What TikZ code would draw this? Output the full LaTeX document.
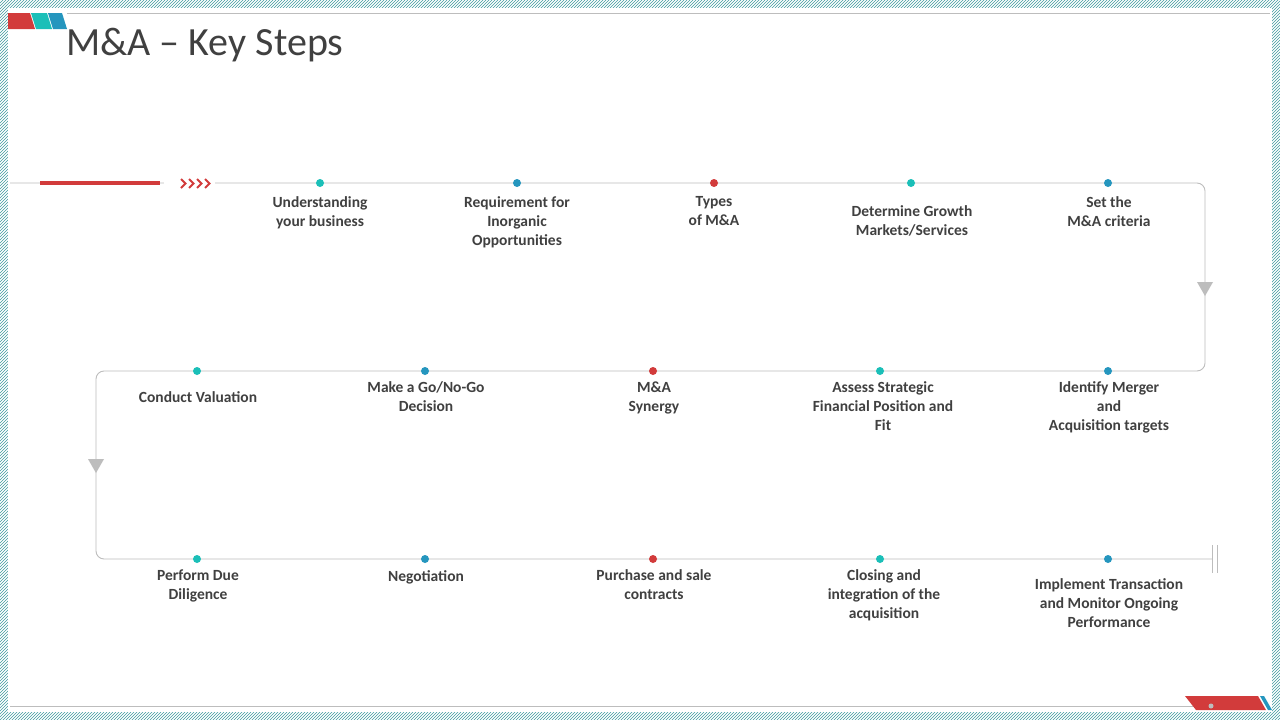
\documentclass[tikz,border=0pt]{standalone}
\usepackage{fontspec}
\setmainfont{Carlito}
\usetikzlibrary{patterns}
\definecolor{teal1}{HTML}{1BBFB8}
\definecolor{blue1}{HTML}{2596BE}
\definecolor{red1}{HTML}{D23B3B}
\definecolor{hatch}{HTML}{3F9A9E}
\definecolor{ln}{HTML}{BDBDBD}
\definecolor{tx}{HTML}{404040}
\begin{document}
\begin{tikzpicture}[x=1pt,y=-1pt,
  dotc/.style={circle,fill=#1,inner sep=0pt,minimum size=8pt},
  lab/.style={font=\bfseries\fontsize{15.5}{19}\selectfont,text=tx,align=center,anchor=north},
  flow/.style={draw=ln,line width=0.9pt,rounded corners=8pt}]
\useasboundingbox (0,0) rectangle (1280,720);
\fill[pattern=north east lines,pattern color=hatch] (0,0) rectangle (1280,720);
\fill[white] (8,8) rectangle (1272,712);
\draw[ln,line width=0.6pt] (67,13) -- (1270,13);
\draw[ln,line width=0.6pt] (10,706) -- (1210,706);
\fill[red1] (8,13) -- (30,13) -- (35,29) -- (8,29) -- cycle;
\fill[teal1] (31,13) -- (47,13) -- (52,29) -- (36,29) -- cycle;
\fill[blue1] (48,13) -- (62,13) -- (67,29) -- (53,29) -- cycle;
\node[anchor=west,text=tx,font=\fontsize{40}{44}\selectfont,inner sep=0pt] (title) at (66,45) {M\&A -- Key Steps};
\fill[red1] (1185,696) -- (1258,696) -- (1266,710) -- (1196,710) -- cycle;
\fill[blue1] (1260,696) -- (1264,696) -- (1272,710) -- (1268,710) -- cycle;
\node[circle,fill=ln,inner sep=0pt,minimum size=5pt] (bd) at (1211,706) {};
% flow line
\coordinate (s) at (10,183);
\coordinate (c1) at (1205,183);
\coordinate (c2) at (1205,371);
\coordinate (c3) at (96,371);
\coordinate (c4) at (96,559);
\coordinate (e) at (1212,559);
\draw[flow] (s) -- (c1) -- (c2) -- (c3) -- (c4) -- (e);
\fill[white] (164,178) rectangle (215,188);
\fill[red1] (40,180.5) rectangle (160,185);
\foreach \i in {0,1,2,3}{
 \draw[red1,line width=1.8pt] (181+\i*8,179) -- (185.5+\i*8,183.5) -- (181+\i*8,188);}
\draw[ln,line width=0.9pt] (1212,545) -- (1212,573) (1217,545) -- (1217,573);
\fill[ln] (1197,282) -- (1213,282) -- (1205,296) -- cycle;
\fill[ln] (88,459) -- (104,459) -- (96,473) -- cycle;
% row 1
\node[dotc=teal1] (d1) at (320,183) {};
\node[dotc=blue1] (d2) at (517,183) {};
\node[dotc=red1] (d3) at (714,183) {};
\node[dotc=teal1] (d4) at (911,183) {};
\node[dotc=blue1] (d5) at (1108,183) {};
\node[lab] at (320,193) {Understanding\\your business};
\node[lab] at (517,193) {Requirement for\\Inorganic\\Opportunities};
\node[lab] at (714,193) {Types\\of M\&A};
\node[lab] at (912,202) {Determine Growth\\Markets/Services};
\node[lab] at (1109,193) {Set the\\M\&A criteria};
% row 2
\node[dotc=teal1] (e1) at (197,371) {};
\node[dotc=blue1] (e2) at (425,371) {};
\node[dotc=red1] (e3) at (653,371) {};
\node[dotc=teal1] (e4) at (880,371) {};
\node[dotc=blue1] (e5) at (1108,371) {};
\node[lab] at (198,388) {Conduct Valuation};
\node[lab] at (426,378) {Make a Go/No-Go\\Decision};
\node[lab] at (654,378) {M\&A\\Synergy};
\node[lab] at (883,378) {Assess Strategic\\Financial Position and\\Fit};
\node[lab] at (1109,378) {Identify Merger\\and\\Acquisition targets};
% row 3
\node[dotc=teal1] (f1) at (197,559) {};
\node[dotc=blue1] (f2) at (425,559) {};
\node[dotc=red1] (f3) at (653,559) {};
\node[dotc=teal1] (f4) at (880,559) {};
\node[dotc=blue1] (f5) at (1108,559) {};
\node[lab] at (198,566) {Perform Due\\Diligence};
\node[lab] at (426,567) {Negotiation};
\node[lab] at (654,566) {Purchase and sale\\contracts};
\node[lab] at (884,566) {Closing and\\integration of the\\acquisition};
\node[lab] at (1109,575) {Implement Transaction\\and Monitor Ongoing\\Performance};
\end{tikzpicture}
\end{document}
